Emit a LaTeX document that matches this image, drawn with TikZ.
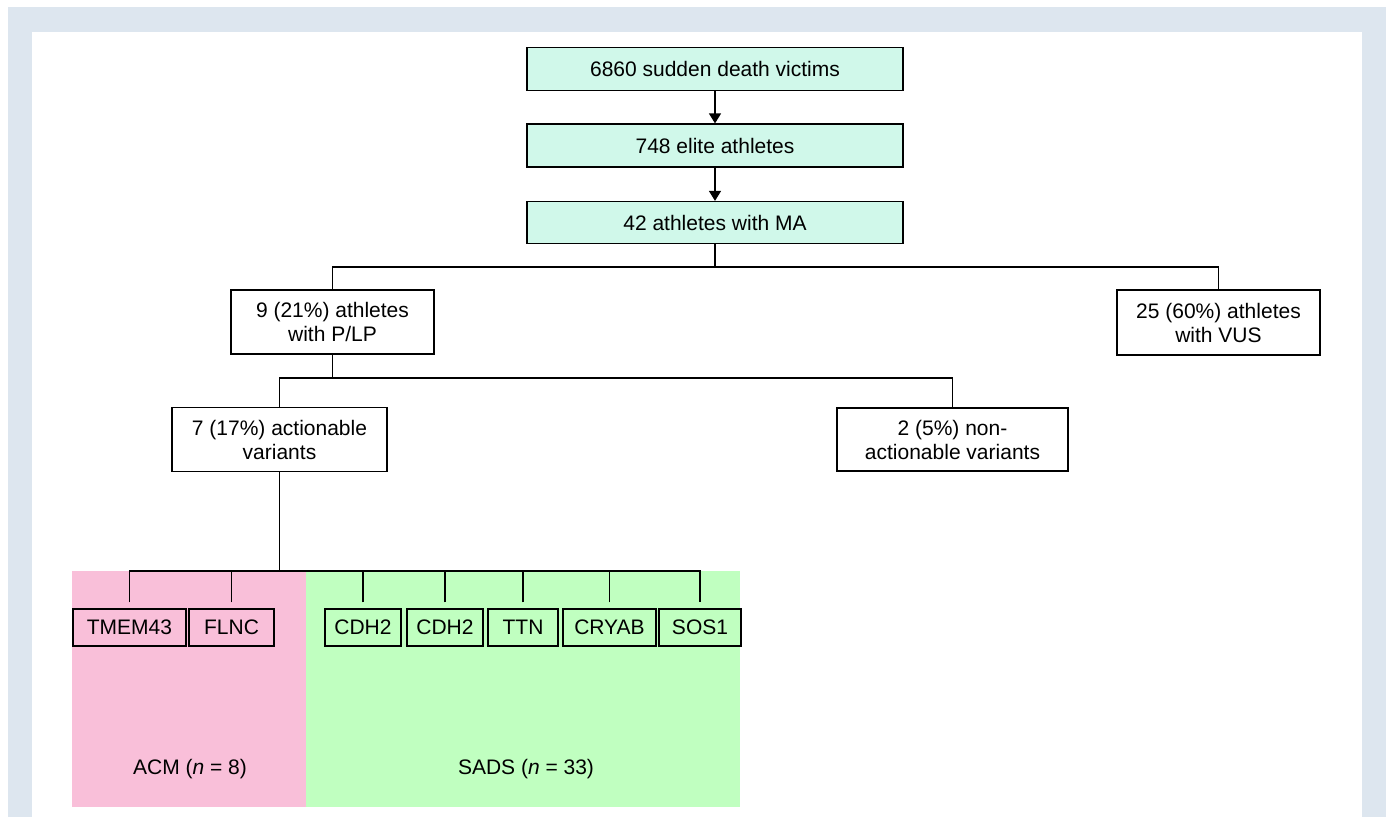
\documentclass[tikz,border=0pt]{standalone}
\usepackage{fontspec}
\setmainfont{Liberation Sans}
\usetikzlibrary{arrows.meta}
\definecolor{frameblue}{HTML}{DDE6EF}
\definecolor{mint}{HTML}{D0F8EA}
\definecolor{acmpink}{HTML}{F9BFD9}
\definecolor{sadsgreen}{HTML}{C0FFC0}
\tikzset{
  box/.style={draw=black, line width=1.2pt, inner sep=0pt, align=center,
    font=\fontsize{21}{24}\selectfont},
  topbox/.style={box, fill=mint, minimum width=376pt, minimum height=43pt},
  genebox/.style={box, minimum height=37pt},
  link/.style={line width=1.2pt},
  flow/.style={link, -{Triangle[length=10pt,width=12pt]}}
}
\begin{document}
\begin{tikzpicture}[x=1pt,y=-1pt]
\useasboundingbox (0,0) rectangle (1386,817);
% frame
\fill[frameblue] (8,7) rectangle (1386,817);
\fill[white] (32,32) rectangle (1362,817);
% groups
\fill[acmpink] (72,571) rectangle (306,807);
\fill[sadsgreen] (306,571) rectangle (740,807);
\node[font=\fontsize{21}{24}\selectfont] (acm) at (190,769) {ACM (\textit{n} = 8)};
\node[font=\fontsize{21}{24}\selectfont] (sads) at (526,769) {SADS (\textit{n} = 33)};

% main chain
\node[topbox] (victims) at (715,69) {6860 sudden death victims};
\node[topbox] (elite) at (715,145.5) {748 elite athletes};
\node[topbox, minimum height=42pt] (ma) at (715,222.5) {42 athletes with MA};
\draw[flow] (victims) -- (elite);
\draw[flow] (elite) -- (ma);

\node[box, minimum width=203pt, minimum height=64pt] (plp) at (332.5,322) {9 (21\%) athletes\\with P/LP};
\node[box, minimum width=203pt, minimum height=65pt] (vus) at (1218.5,322.5) {25 (60\%) athletes\\with VUS};
\coordinate (bus1) at (715,267);
\draw[link] (ma.south) -- (bus1);
\draw[link] (plp.north) |- (bus1) -| (vus.north);

\node[box, minimum width=215pt, minimum height=64pt] (act) at (279.5,439.5) {7 (17\%) actionable\\variants};
\node[box, minimum width=231pt, minimum height=63pt] (nonact) at (952.5,439.5) {2 (5\%) non-\\actionable variants};
\coordinate (bus2) at (332.5,378);
\draw[link] (plp.south) -- (bus2);
\draw[link] (act.north) |- (bus2) -| (nonact.north);

% genes
\node[genebox, minimum width=113pt] (tmem) at (129.5,627.5) {TMEM43};
\node[genebox, minimum width=85pt] (flnc) at (231.5,627.5) {FLNC};
\node[genebox, minimum width=76pt] (cdha) at (363,627.5) {CDH2};
\node[genebox, minimum width=76pt] (cdhb) at (445,627.5) {CDH2};
\node[genebox, minimum width=70pt] (ttn) at (523,627.5) {TTN};
\node[genebox, minimum width=93pt] (cryab) at (609.5,627.5) {CRYAB};
\node[genebox, minimum width=82pt] (sos) at (700,627.5) {SOS1};
\coordinate (bus3) at (279.5,571);
\draw[link] (act.south) -- (bus3);
\draw[link] ([yshift=6pt]tmem.north) |- (bus3) -| ([yshift=6pt]sos.north);
\foreach \g in {flnc,cdha,cdhb,ttn,cryab}
  \draw[link] ([yshift=6pt]\g.north) -- (bus3 -| \g.north);
\end{tikzpicture}
\end{document}
